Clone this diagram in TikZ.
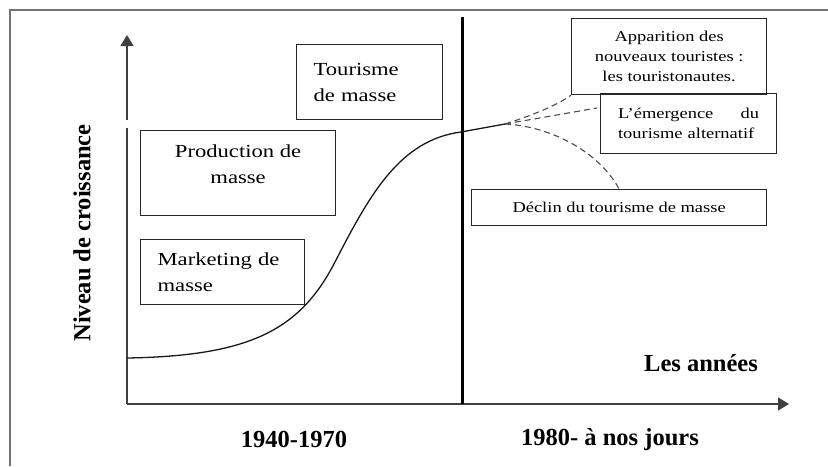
\documentclass[tikz,border=0pt]{standalone}
\usepackage{fontspec}
\setmainfont{Liberation Serif}
\newfontfamily\boxfont[FakeStretch=1.23]{Liberation Serif}
\usetikzlibrary{arrows.meta}

\begin{document}
\begin{tikzpicture}[x=0.5pt,y=-0.5pt,
  bigbox/.style={draw=black!85,line width=0.6pt,inner sep=0pt,anchor=north west,
    font=\boxfont\fontsize{9.2}{13}\selectfont},
  smallbox/.style={bigbox,font=\boxfont\fontsize{7.5}{10}\selectfont},
  axis/.style={draw=black!75,line width=0.75pt},
  tip/.style={-{Triangle[length=5.5pt,width=6.5pt]}},
  branch/.style={draw=black!70,line width=0.55pt,dash pattern=on 3pt off 2pt},
  lbl/.style={font=\fontsize{12.25}{14}\bfseries,inner sep=0pt}]
\useasboundingbox (0,0) rectangle (828,466);
\draw [black!55,line width=0.75pt] (828,10) -- (10,10) -- (10,466);
\coordinate (o) at (127,404);
\coordinate (ytop) at (127,35);
\coordinate (xend) at (789,404);
\draw [axis] (o) -- (127,128);
\draw [axis,tip] (127,120) -- (ytop);
\draw [axis,tip] (o) -- (xend);
\draw [line width=1.5pt] (462,17) -- (462,404);
\node [bigbox,minimum width=73pt,minimum height=37.5pt,text width=56pt,align=left] (tour) at (296,44) {Tourisme\\de masse};
\node [bigbox,minimum width=97.5pt,minimum height=42.5pt,align=center] (prod) at (140,130) {Production de\\masse\\[-4.5pt]\mbox{}};
\node [bigbox,minimum width=82pt,minimum height=32.5pt,text width=65pt,align=left] (mark) at (140,239) {Marketing de\\masse};
\node [smallbox,minimum width=97.5pt,minimum height=38pt,align=center] (appar) at (571,18) {Apparition des\\nouveaux touristes :\\les touristonautes.};
\node [smallbox,minimum width=88pt,minimum height=30pt,text width=70.5pt,align=left] (emerg) at (600,93) {L’émergence\hfill du\\tourisme alternatif};
\node [smallbox,minimum width=147.5pt,minimum height=18pt,align=center] (declin) at (471,189) {Déclin du tourisme de masse};
\coordinate (start) at (127,358);
\coordinate (fork) at (505,124);
\coordinate (emtip) at (597,108);
\draw [black!90,line width=0.65pt] (start) .. controls (250,356) and (300,330) .. (335,262)
  .. controls (370,194) and (400,140) .. (461,132) -- (fork);
\draw [branch] (fork) .. controls (530,116) and (556,106) .. (appar.south west);
\draw [branch] (fork) -- (emtip);
\draw [branch] (fork) .. controls (548,126) and (598,150) .. (declin.north);
\node [lbl,rotate=90] (yl) at (82,233) {Niveau de croissance};
\node [lbl] (xl) at (701,363) {Les années};
\node [lbl] (p1) at (294,439) {1940-1970};
\node [lbl] (p2) at (610,440) {1980- à nos jours};
\end{tikzpicture}
\end{document}
